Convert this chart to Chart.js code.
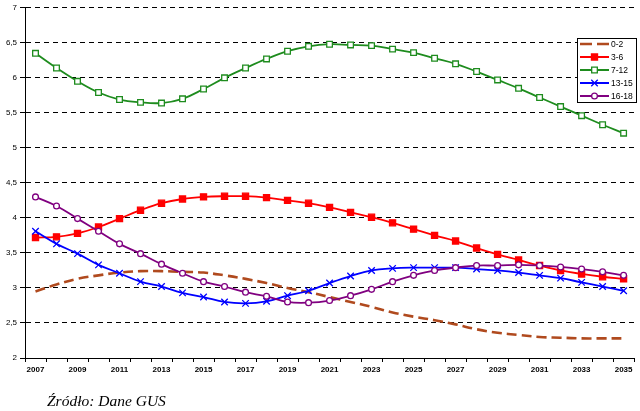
<!DOCTYPE html>
<html>
<head>
<meta charset="utf-8">
<script src="https://cdn.jsdelivr.net/npm/chart.js@4.4.1/dist/chart.umd.min.js"></script>
<style>
  html, body { margin: 0; padding: 0; background: #ffffff; }
  #wrap { position: relative; width: 640px; height: 411px; overflow: hidden; background: #fff; }
  #c { position: absolute; left: 0; top: 0; }
  #src { position: absolute; left: 47px; top: 393px; font-family: "Liberation Serif", "Times New Roman", serif; font-style: italic; font-size: 15.5px; line-height: 15px; color: #000; white-space: nowrap; }
</style>
</head>
<body>
<div id="wrap">
  <canvas id="c" width="640" height="411"></canvas>
  <div id="src">Źródło: Dane GUS</div>
</div>
<script>
const years = ["2007","2008","2009","2010","2011","2012","2013","2014","2015","2016","2017","2018","2019","2020","2021","2022","2023","2024","2025","2026","2027","2028","2029","2030","2031","2032","2033","2034","2035"];
const seriesNames = ["0-2", "3-6", "7-12", "13-15", "16-18"];
const s0_2   = [2.95,3.05,3.13,3.18,3.22,3.24,3.24,3.23,3.22,3.18,3.13,3.07,3.00,2.94,2.87,2.80,2.73,2.65,2.59,2.54,2.48,2.41,2.36,2.33,2.30,2.29,2.28,2.28,2.28];
const s3_6   = [3.72,3.73,3.78,3.87,3.99,4.11,4.21,4.27,4.30,4.31,4.31,4.29,4.25,4.21,4.15,4.08,4.01,3.93,3.84,3.75,3.67,3.57,3.48,3.40,3.32,3.25,3.20,3.16,3.13];
const s7_12  = [6.35,6.14,5.95,5.79,5.69,5.65,5.64,5.70,5.84,6.00,6.14,6.27,6.38,6.45,6.48,6.47,6.46,6.41,6.36,6.28,6.20,6.09,5.97,5.85,5.72,5.59,5.46,5.33,5.21];
const s13_15 = [3.81,3.63,3.49,3.33,3.21,3.09,3.02,2.93,2.87,2.80,2.78,2.81,2.89,2.96,3.07,3.17,3.25,3.28,3.29,3.29,3.29,3.27,3.25,3.22,3.18,3.14,3.08,3.02,2.96];
const s16_18 = [4.30,4.17,3.99,3.81,3.63,3.49,3.34,3.21,3.09,3.02,2.94,2.88,2.80,2.79,2.82,2.89,2.98,3.09,3.18,3.25,3.29,3.32,3.32,3.33,3.32,3.30,3.27,3.23,3.18];
const yTicks = [2, 2.5, 3, 3.5, 4, 4.5, 5, 5.5, 6, 6.5, 7];

const FONT = "'Liberation Sans', Arial, sans-serif";

const styles = [
  { color: "#B04A1E", width: 2.6, dash: [10, 5], pointStyle: false, radius: 0, fill: "#B04A1E" },
  { color: "#FF0000", width: 1.8, dash: [], pointStyle: "rect", radius: 4.3, fill: "#FF0000" },
  { color: "#1E8C1E", width: 1.8, dash: [], pointStyle: "rect", radius: 4.0, fill: "#FFFFFF" },
  { color: "#0000FF", width: 1.8, dash: [], pointStyle: "crossRot", radius: 4.6, fill: "#0000FF" },
  { color: "#800080", width: 1.8, dash: [], pointStyle: "circle", radius: 2.9, fill: "#FFFFFF" }
];
const values = [s0_2, s3_6, s7_12, s13_15, s16_18];

const datasets = values.map((v, i) => ({
  label: seriesNames[i],
  data: v,
  borderColor: styles[i].color,
  borderWidth: styles[i].width,
  borderDash: styles[i].dash,
  backgroundColor: styles[i].fill,
  pointStyle: styles[i].pointStyle,
  pointRadius: styles[i].radius,
  pointBorderColor: styles[i].color,
  pointBackgroundColor: styles[i].fill,
  pointBorderWidth: 1.3,
  tension: 0.4,
  fill: false,
  order: 5 - i
}));

function drawMarker(ctx, st, x, y) {
  ctx.save();
  ctx.setLineDash([]);
  ctx.lineWidth = 1.3;
  ctx.strokeStyle = st.color;
  ctx.fillStyle = st.fill;
  const r = st.radius;
  if (st.pointStyle === "rect") {
    const s = r * Math.SQRT1_2;
    ctx.beginPath(); ctx.rect(x - s, y - s, 2 * s, 2 * s); ctx.fill(); ctx.stroke();
  } else if (st.pointStyle === "circle") {
    ctx.beginPath(); ctx.arc(x, y, r, 0, Math.PI * 2); ctx.fill(); ctx.stroke();
  } else if (st.pointStyle === "crossRot") {
    const o = r * Math.SQRT1_2;
    ctx.beginPath();
    ctx.moveTo(x - o, y - o); ctx.lineTo(x + o, y + o);
    ctx.moveTo(x - o, y + o); ctx.lineTo(x + o, y - o);
    ctx.stroke();
  }
  ctx.restore();
}

const legendPlugin = {
  id: "boxLegend",
  afterDatasetsDraw(chart) {
    const ctx = chart.ctx;
    const bx = 577.5, by = 38.5, bw = 59, bh = 64;
    ctx.save();
    ctx.fillStyle = "#FFFFFF";
    ctx.fillRect(bx, by, bw, bh);
    ctx.strokeStyle = "#000000";
    ctx.lineWidth = 1;
    ctx.strokeRect(bx, by, bw, bh);
    const rows = [44, 57, 70, 83, 96];
    seriesNames.forEach((name, i) => {
      const st = styles[i];
      const y = rows[i];
      ctx.save();
      ctx.strokeStyle = st.color;
      ctx.lineWidth = i === 0 ? 2.6 : 2;
      ctx.setLineDash(i === 0 ? [12, 5] : []);
      ctx.beginPath();
      ctx.moveTo(580, y); ctx.lineTo(609, y);
      ctx.stroke();
      ctx.restore();
      if (st.pointStyle) drawMarker(ctx, st, 594.5, y);
      ctx.fillStyle = "#000000";
      ctx.font = "8.5px " + FONT;
      ctx.textBaseline = "middle";
      ctx.textAlign = "left";
      ctx.fillText(name, 611, y + 0.5);
    });
    ctx.restore();
  }
};

new Chart(document.getElementById("c"), {
  type: "line",
  data: { labels: years, datasets: datasets },
  options: {
    responsive: false,
    animation: false,
    devicePixelRatio: 1,
    layout: { padding: { top: 7, right: 4, left: 0, bottom: 0 } },
    plugins: { legend: { display: false }, tooltip: { enabled: false } },
    elements: { line: { capBezierPoints: true } },
    scales: {
      x: {
        type: "category",
        offset: true,
        grid: { offset: true, drawOnChartArea: false, drawTicks: true, tickLength: 4, color: "#000000", lineWidth: 1 },
        border: { display: true, color: "#000000", width: 1 },
        ticks: {
          autoSkip: false, maxRotation: 0, minRotation: 0, padding: 3,
          color: "#000000",
          font: { family: FONT, size: 8, weight: "bold" },
          callback: function (v, i) { return i % 2 === 0 ? years[i] : ""; }
        },
        afterFit: function (s) { s.height = 53; }
      },
      y: {
        min: 2, max: 7,
        afterBuildTicks: function (s) { s.ticks = yTicks.map(v => ({ value: v })); },
        grid: { drawOnChartArea: true, drawTicks: true, tickLength: 5, color: "#000000", lineWidth: 1 },
        border: { display: true, color: "#000000", width: 1, dash: [5, 4] },
        ticks: {
          padding: 3, color: "#000000",
          font: { family: FONT, size: 8 },
          callback: function (v) { return String(v).replace(".", ","); }
        },
        afterFit: function (s) { s.width = 25; }
      }
    }
  },
  plugins: [legendPlugin]
});
</script>
</body>
</html>
